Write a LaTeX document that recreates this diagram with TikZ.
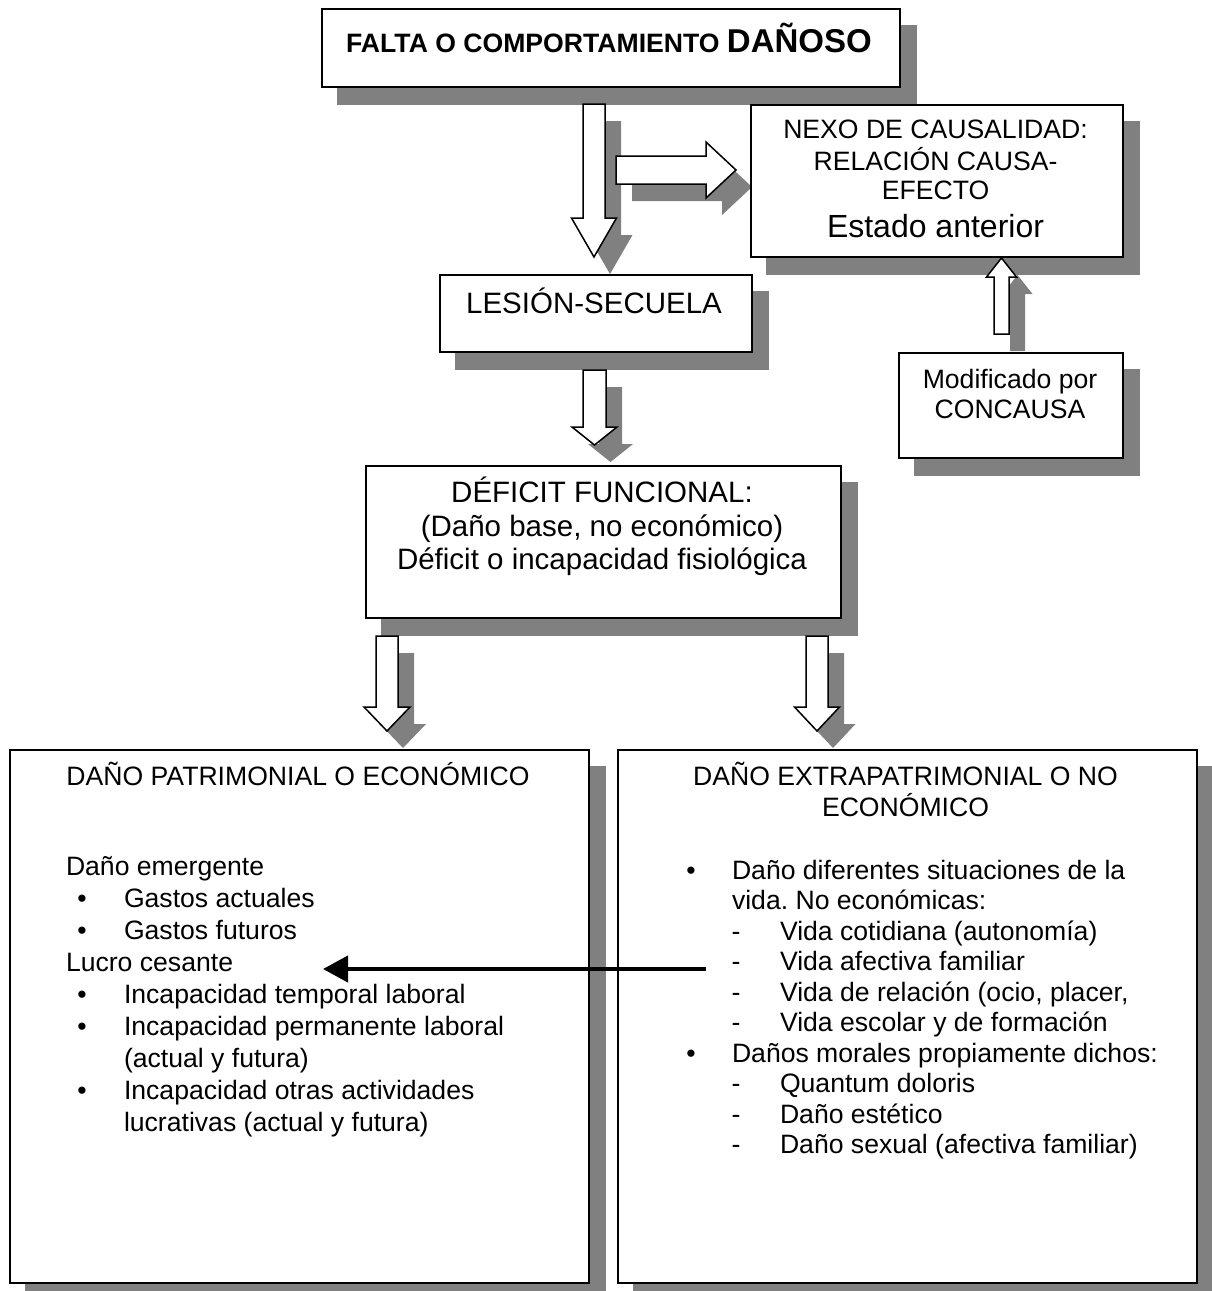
\documentclass[tikz,border=0pt]{standalone}
\usepackage{fontspec}
\setmainfont{Liberation Sans}
\usetikzlibrary{arrows.meta}
\pgfdeclarelayer{bg}
\pgfdeclarelayer{shadowlayer}
\pgfsetlayers{bg,shadowlayer,main}
\definecolor{shadowgrey}{HTML}{808080}
\frenchspacing

\newcommand\bodyfont{\fontsize{26.6}{31}\selectfont}
\newcommand\midfont{\fontsize{29.5}{34}\selectfont}
\newcommand\bigfont{\fontsize{32}{37}\selectfont}

% grey drop shadow behind a named box
\newcommand\boxshadow[1]{%
  \begin{pgfonlayer}{shadowlayer}
    \fill[shadowgrey] ([shift={(16,17)}]#1.north west) rectangle ([shift={(16,17)}]#1.south east);
  \end{pgfonlayer}}

% hollow block arrow with shadow
% #1 tail coordinate, #2 rotation, #3 shaft half width, #4 head half width,
% #5 shaft length, #6 head length
\newcommand\blockarrow[6]{%
  \begin{pgfonlayer}{shadowlayer}
    \fill[shadowgrey, shift={(#1)}, shift={(16,17)}, rotate=#2]
      (-#3,0) -- (#3,0) -- (#3,#5) -- (#4,#5) -- (0,#5+#6) -- (-#4,#5) -- (-#3,#5) -- cycle;
  \end{pgfonlayer}
  \draw[arrowbody, shift={(#1)}, rotate=#2]
      (-#3,0) -- (#3,0) -- (#3,#5) -- (#4,#5) -- (0,#5+#6) -- (-#4,#5) -- (-#3,#5) -- cycle;}

\begin{document}
\begin{tikzpicture}[x=1pt,y=-1pt,
  box/.style={draw=black, line width=2pt, fill=white, inner sep=0pt, anchor=north west},
  arrowbody/.style={draw=black, line width=1.5pt, fill=white, line join=miter},
  txt/.style={inner sep=0pt, outer sep=0pt, font=\bodyfont},
  ctr/.style={txt, anchor=base},
  lft/.style={txt, anchor=base west},
  conn/.style={line width=4.3pt, -{Triangle[length=25pt,width=26pt]}}]

\useasboundingbox (0,0) rectangle (1212,1291);
\begin{pgfonlayer}{bg}
  \fill[white] (0,0) rectangle (1212,1291);
\end{pgfonlayer}

% ---------- boxes ----------
\node[box, minimum width=578pt, minimum height=78pt]  (falta)    at (321,8)   {};
\node[box, minimum width=372pt, minimum height=152pt] (nexo)     at (750,104) {};
\node[box, minimum width=312pt, minimum height=77pt]  (lesion)   at (439,274) {};
\node[box, minimum width=224pt, minimum height=105pt] (concausa) at (898,352) {};
\node[box, minimum width=475pt, minimum height=152pt] (deficit)  at (365,465) {};
\node[box, minimum width=579pt, minimum height=533pt] (patri)    at (9,749)   {};
\node[box, minimum width=579pt, minimum height=533pt] (extra)    at (617,749) {};
\foreach \b in {falta,nexo,lesion,concausa,deficit,patri,extra} {\boxshadow{\b}}

% ---------- block arrows ----------
\coordinate (a1) at (594,104);
\coordinate (a2) at (616,170);
\coordinate (a3) at (594.5,370);
\coordinate (a4) at (1001.5,334);
\coordinate (a5) at (387,636);
\coordinate (a6) at (817,636);
\blockarrow{a1}{0}{11}{22.5}{114}{39}
\blockarrow{a2}{90}{14}{28}{90}{30}
\blockarrow{a3}{0}{11.5}{22.5}{57}{18}
\blockarrow{a4}{180}{7.5}{15}{57}{19}
\blockarrow{a5}{0}{11}{23}{71}{24}
\blockarrow{a6}{0}{11}{22.5}{71}{24}

% ---------- texts ----------
\node[ctr] (tfalta) at (609,52) {\bfseries FALTA O COMPORTAMIENTO {\fontsize{33}{38}\selectfont DAÑOSO}};

\node[ctr] (tnexo1) at (935.5,138) {NEXO DE CAUSALIDAD:};
\node[ctr] (tnexo2) at (935.5,170) {RELACIÓN CAUSA-};
\node[ctr] (tnexo3) at (935.5,199) {EFECTO};
\node[ctr, font=\bigfont] (tnexo4) at (935.5,237) {Estado anterior};

\node[ctr, font=\midfont] (tlesion) at (594,313) {LESIÓN-SECUELA};

\node[ctr] (tcon1) at (1010,388) {Modificado por};
\node[ctr] (tcon2) at (1010,418) {CONCAUSA};

\node[ctr, font=\midfont] (tdef1) at (602,502) {DÉFICIT FUNCIONAL:};
\node[ctr, font=\midfont] (tdef2) at (602,536) {(Daño base, no económico)};
\node[ctr, font=\midfont] (tdef3) at (602,569) {Déficit o incapacidad fisiológica};

% left column
\node[ctr] (tpat) at (298,785) {DAÑO PATRIMONIAL O ECONÓMICO};
\node[lft] (pl1) at (66,875) {Daño emergente};
\node[ctr] (pb1) at (82,907) {•};
\node[lft] (pl2) at (124,907) {Gastos actuales};
\node[ctr] (pb2) at (82,939) {•};
\node[lft] (pl3) at (124,939) {Gastos futuros};
\node[lft] (pl4) at (66,971) {Lucro cesante};
\node[ctr] (pb3) at (82,1003) {•};
\node[lft] (pl5) at (124,1003) {Incapacidad temporal laboral};
\node[ctr] (pb4) at (82,1035) {•};
\node[lft] (pl6) at (124,1035) {Incapacidad permanente laboral};
\node[lft] (pl7) at (124,1067) {(actual y futura)};
\node[ctr] (pb5) at (82,1099) {•};
\node[lft] (pl8) at (124,1099) {Incapacidad otras actividades};
\node[lft] (pl9) at (124,1131) {lucrativas (actual y futura)};

% right column
\node[ctr] (text1) at (905.5,785) {DAÑO EXTRAPATRIMONIAL O NO};
\node[ctr] (text2) at (905.5,816) {ECONÓMICO};
\node[ctr] (eb1) at (691,879) {•};
\node[lft] (el1) at (732,879) {Daño diferentes situaciones de la};
\node[lft] (el2) at (732,909.5) {vida. No económicas:};
\node[ctr] (ed1) at (736,940) {-};
\node[lft] (el3) at (780,940) {Vida cotidiana (autonomía)};
\node[ctr] (ed2) at (736,970.5) {-};
\node[lft] (el4) at (780,970.5) {Vida afectiva familiar};
\node[ctr] (ed3) at (736,1001) {-};
\node[lft] (el5) at (780,1001) {Vida de relación (ocio, placer,};
\node[ctr] (ed4) at (736,1031.5) {-};
\node[lft] (el6) at (780,1031.5) {Vida escolar y de formación};
\node[ctr] (eb2) at (691,1062) {•};
\node[lft] (el7) at (732,1062) {Daños morales propiamente dichos:};
\node[ctr] (ed5) at (736,1092.5) {-};
\node[lft] (el8) at (780,1092.5) {Quantum doloris};
\node[ctr] (ed6) at (736,1123) {-};
\node[lft] (el9) at (780,1123) {Daño estético};
\node[ctr] (ed7) at (736,1153.5) {-};
\node[lft] (el10) at (780,1153.5) {Daño sexual (afectiva familiar)};

% ---------- connector ----------
\coordinate (linkR) at (706,969);
\coordinate (linkL) at (323,969);
\draw[conn] (linkR) -- (linkL);

\end{tikzpicture}
\end{document}
